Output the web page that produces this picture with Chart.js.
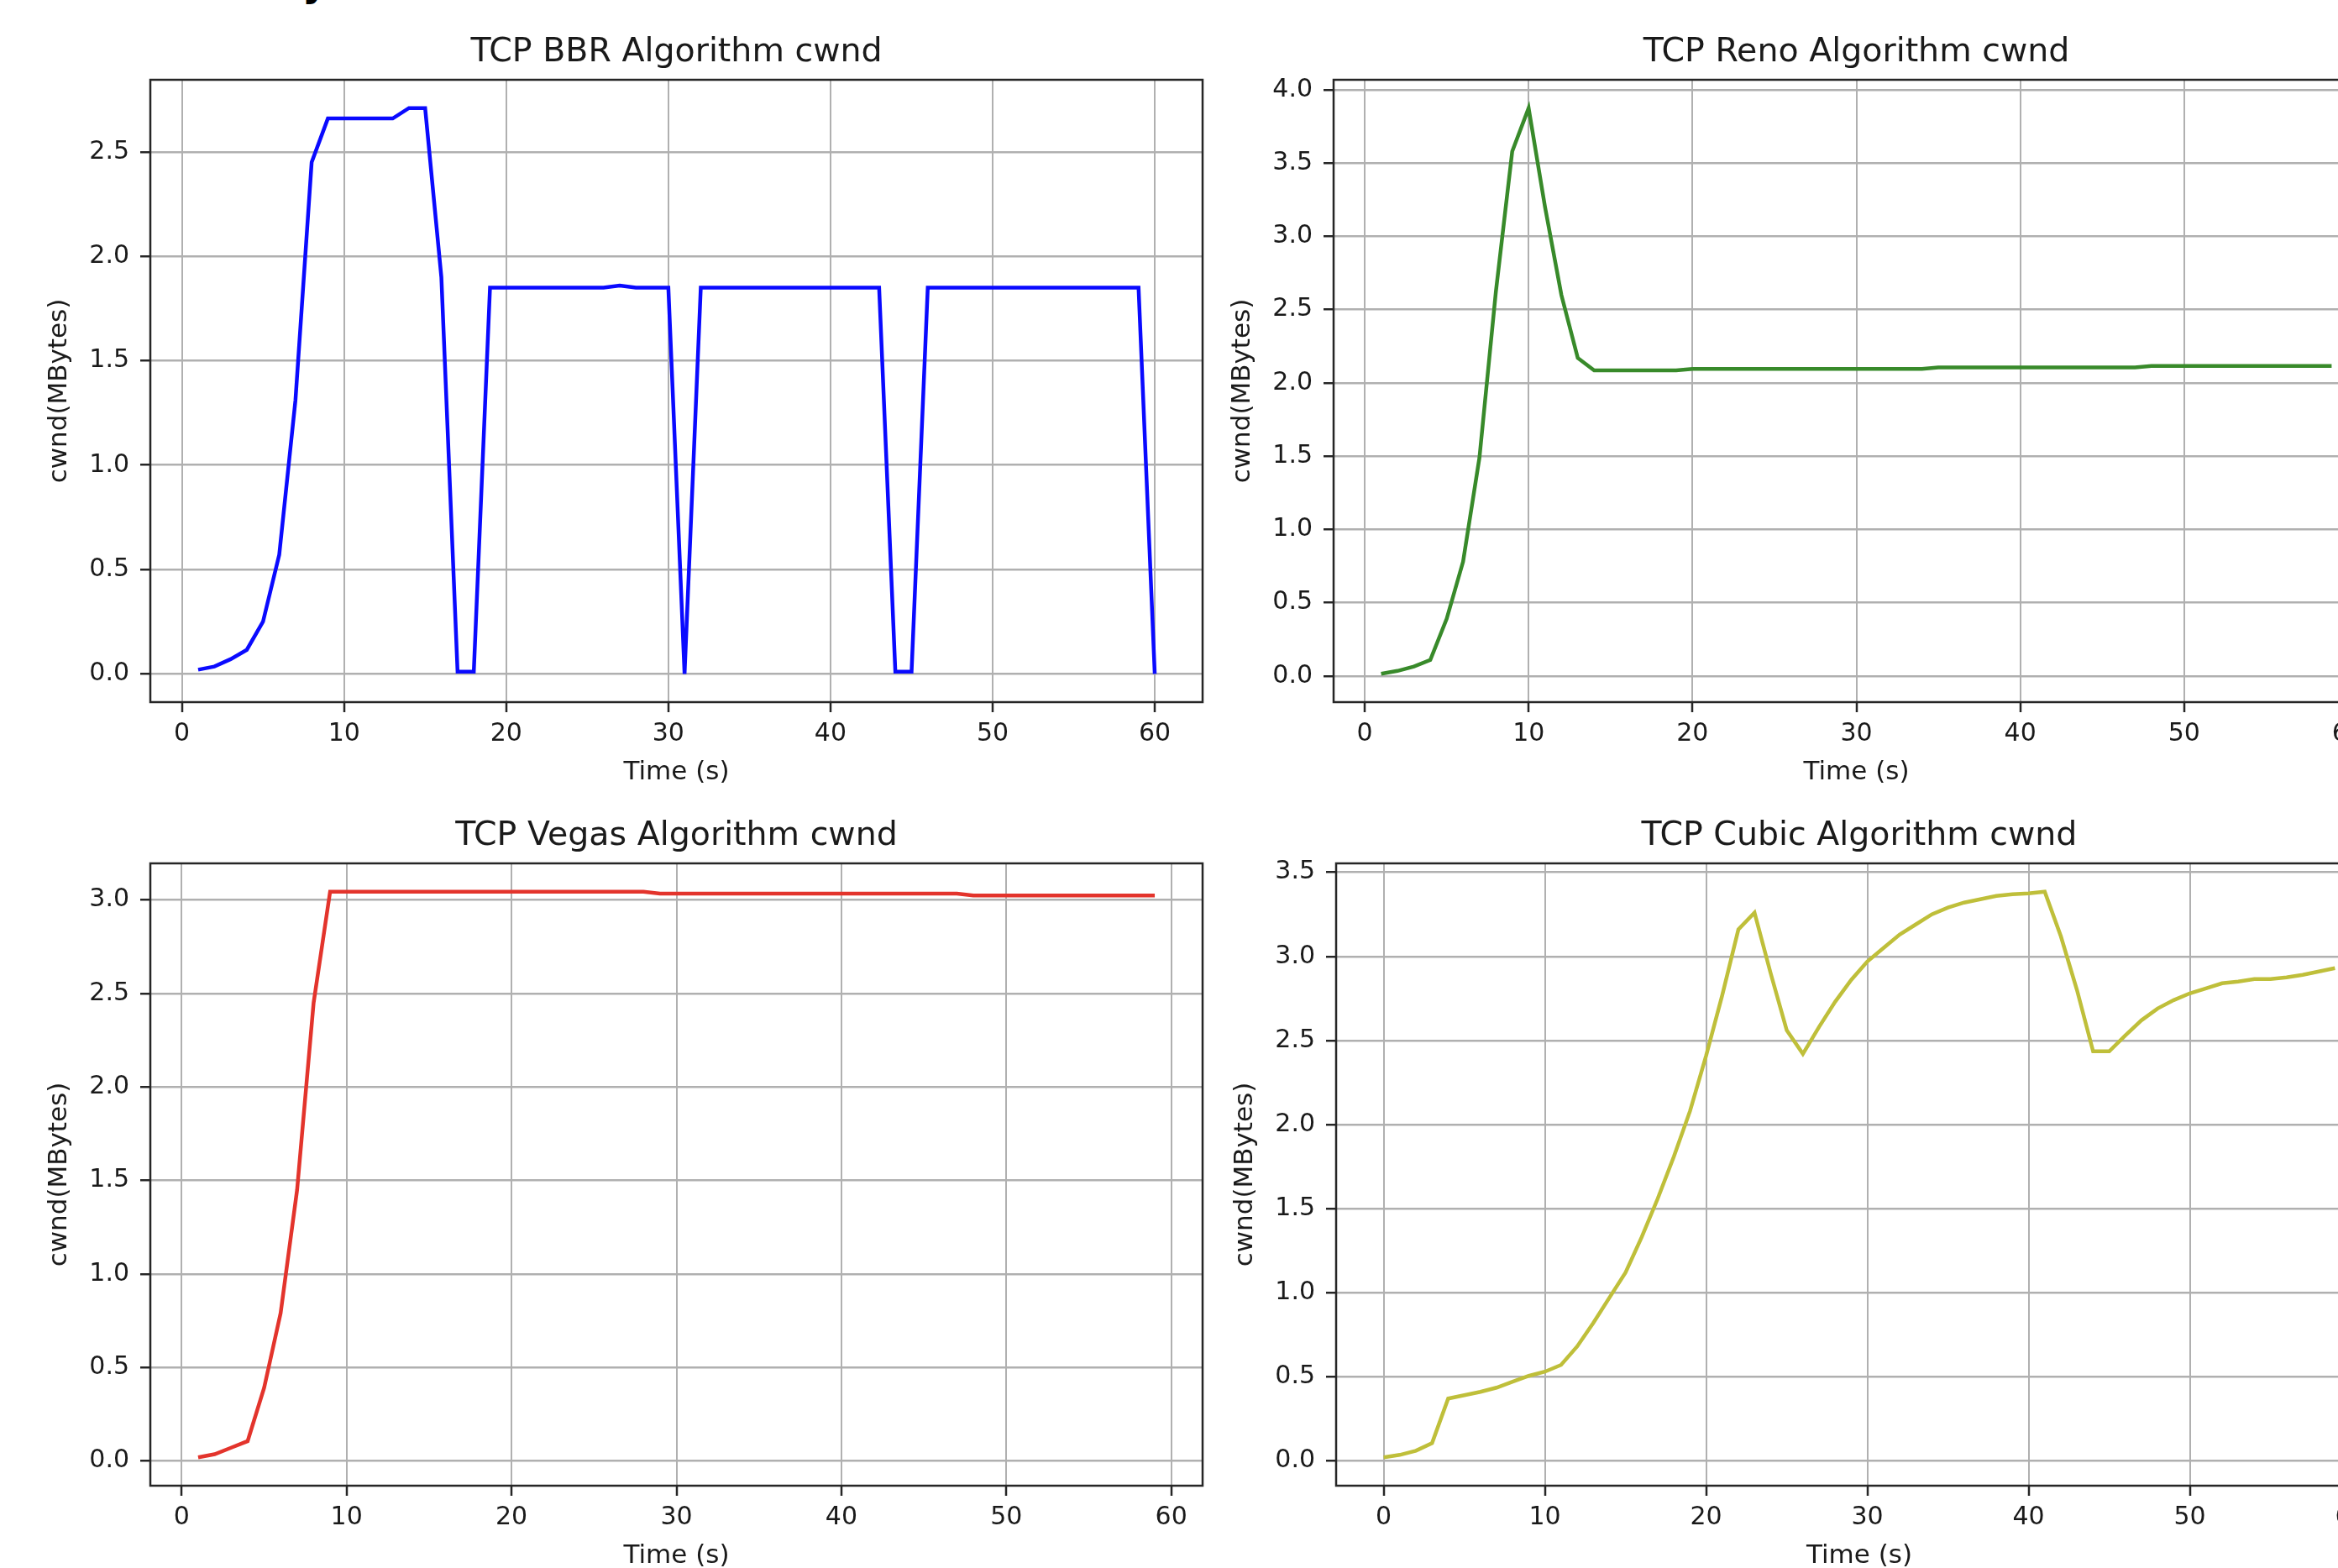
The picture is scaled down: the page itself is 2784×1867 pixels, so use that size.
<!DOCTYPE html>
<html>
<head>
<meta charset="utf-8">
<title>TCP cwnd</title>
<script src="https://cdn.jsdelivr.net/npm/chart.js@4.4.0/dist/chart.umd.min.js"></script>
<style>
  html, body { margin: 0; padding: 0; background: #fff; overflow: hidden; width: 2784px; height: 1867px; }
  canvas { position: absolute; }
  #frag { position: absolute; left: 360px; top: -48px; font: bold 46px "DejaVu Sans"; color: #000; }
</style>
</head>
<body>
<div id="frag">y</div>
<canvas id="bbrChart" width="1442" height="956" style="left:0px;top:0px"></canvas>
<canvas id="renoChart" width="1434" height="956" style="left:1409px;top:0px"></canvas>
<canvas id="vegasChart" width="1442" height="956" style="left:0px;top:933px"></canvas>
<canvas id="cubicChart" width="1435" height="956" style="left:1412px;top:933px"></canvas>
<script>
// time stamps (s)
const bbrTime = [1,2,3,4,5,6,7,8,9,10,11,12,13,14,15,16,17,18,19,20,21,22,23,24,25,26,27,28,29,30,
  31,32,33,34,35,36,37,38,39,40,41,42,43,44,45,46,47,48,49,50,51,52,53,54,55,56,57,58,59,60];
const renoTime = [1,2,3,4,5,6,7,8,9,10,11,12,13,14,15,16,17,18,19,20,21,22,23,24,25,26,27,28,29,30,
  31,32,33,34,35,36,37,38,39,40,41,42,43,44,45,46,47,48,49,50,51,52,53,54,55,56,57,58,59];
const vegasTime = [1,2,3,4,5,6,7,8,9,10,11,12,13,14,15,16,17,18,19,20,21,22,23,24,25,26,27,28,29,30,
  31,32,33,34,35,36,37,38,39,40,41,42,43,44,45,46,47,48,49,50,51,52,53,54,55,56,57,58,59];
const cubicTime = [0,1,2,3,4,5,6,7,8,9,10,11,12,13,14,15,16,17,18,19,20,21,22,23,24,25,26,27,28,29,
  30,31,32,33,34,35,36,37,38,39,40,41,42,43,44,45,46,47,48,49,50,51,52,53,54,55,56,57,58,59];

// cwnd (MBytes)
const bbrCwnd = [0.02,0.035,0.07,0.115,0.25,0.57,1.31,2.45,2.66,2.66,2.66,2.66,2.66,2.71,2.71,1.90,0.01,0.01,1.85,
  1.85,1.85,1.85,1.85,1.85,1.85,1.85,1.86,1.85,1.85,1.85,0.0,
  1.85,1.85,1.85,1.85,1.85,1.85,1.85,1.85,1.85,1.85,1.85,1.85,0.01,0.01,
  1.85,1.85,1.85,1.85,1.85,1.85,1.85,1.85,1.85,1.85,1.85,1.85,1.85,1.85,0.0];
const renoCwnd = [0.015,0.035,0.065,0.11,0.39,0.78,1.49,2.62,3.58,3.875,3.2,2.6,2.17,2.085,
  2.085,2.085,2.085,2.085,2.085,
  2.095,2.095,2.095,2.095,2.095,2.095,2.095,2.095,2.095,2.095,2.095,2.095,2.095,2.095,2.095,
  2.105,2.105,2.105,2.105,2.105,2.105,2.105,2.105,2.105,2.105,2.105,2.105,2.105,
  2.115,2.115,2.115,2.115,2.115,2.115,2.115,2.115,2.115,2.115,2.115,2.115];
const vegasCwnd = [0.018,0.035,0.07,0.105,0.39,0.79,1.45,2.45,3.045,
  3.045,3.045,3.045,3.045,3.045,3.045,3.045,3.045,3.045,3.045,3.045,3.045,3.045,3.045,3.045,3.045,3.045,3.045,3.045,
  3.035,3.035,3.035,3.035,3.035,3.035,3.035,3.035,3.035,3.035,3.035,3.035,3.035,3.035,3.035,3.035,3.035,3.035,3.035,
  3.025,3.025,3.025,3.025,3.025,3.025,3.025,3.025,3.025,3.025,3.025,3.025];
const cubicCwnd = [0.02,0.035,0.06,0.105,0.37,0.39,0.41,0.435,0.47,0.505,0.53,0.57,0.68,0.82,0.97,1.12,1.33,1.56,1.81,2.08,
  2.41,2.77,3.16,3.26,2.9,2.56,2.42,2.58,2.73,2.86,2.97,3.05,3.13,3.19,3.25,3.29,3.32,3.34,3.36,3.37,
  3.375,3.385,3.12,2.8,2.435,2.435,2.53,2.62,2.69,2.74,2.78,2.81,2.84,2.85,2.865,2.865,2.875,2.89,2.91,2.93];

// tick labels
const timeTicks = [0,10,20,30,40,50,60];
const bbrTicks = [0.0,0.5,1.0,1.5,2.0,2.5];
const renoTicks = [0.0,0.5,1.0,1.5,2.0,2.5,3.0,3.5,4.0];
const vegasTicks = [0.0,0.5,1.0,1.5,2.0,2.5,3.0];
const cubicTicks = [0.0,0.5,1.0,1.5,2.0,2.5,3.0,3.5];

Chart.defaults.font.family = '"DejaVu Sans", sans-serif';
Chart.defaults.color = '#1a1a1a';

// matplotlib style box around the plot area
const frame = {
  id: 'frame',
  afterDatasetsDraw(chart) {
    const { ctx, chartArea: a } = chart;
    ctx.save();
    ctx.strokeStyle = '#262626';
    ctx.lineWidth = 2.5;
    ctx.strokeRect(a.left, a.top, a.right - a.left, a.bottom - a.top);
    ctx.restore();
  }
};

function drawPanel(id, title, times, values, color, yTicks) {
  const lo = Math.min(...values), hi = Math.max(...values);
  const tLo = Math.min(...times), tHi = Math.max(...times);
  const yPad = (hi - lo) * 0.05, xPad = (tHi - tLo) * 0.05;   // matplotlib default margins

  const grid = {
    color: '#b0b0b0',
    lineWidth: 2,
    tickLength: 12,
    tickColor: '#262626',
    tickWidth: 2.5
  };

  new Chart(document.getElementById(id), {
    type: 'line',
    data: {
      datasets: [{
        data: times.map((t, i) => ({ x: t, y: values[i] })),
        borderColor: color,
        borderWidth: 4.5,
        pointRadius: 0,
        tension: 0,
        fill: false
      }]
    },
    options: {
      responsive: false,
      animation: false,
      layout: { padding: { right: 10 } },
      plugins: {
        legend: { display: false },
        tooltip: { enabled: false },
        title: {
          display: true,
          fullSize: false,          // centre over the plot area, like matplotlib
          text: title,
          font: { size: 39.5, weight: 'normal' },
          padding: { top: 39, bottom: 8.6 }
        }
      },
      scales: {
        x: {
          type: 'linear',
          min: tLo - xPad,
          max: tHi + xPad,
          afterBuildTicks: s => { s.ticks = timeTicks.map(v => ({ value: v })); },
          afterFit: s => { s.height = 120; },
          ticks: { font: { size: 30 }, padding: 8, callback: v => String(v) },
          grid: grid,
          border: { display: false },
          title: { display: true, text: 'Time (s)', font: { size: 31 }, padding: { top: 0, bottom: 17 } }
        },
        y: {
          min: lo - yPad,
          max: hi + yPad,
          afterBuildTicks: s => { s.ticks = yTicks.map(v => ({ value: v })); },
          afterFit: s => { s.width = 179; },
          ticks: { font: { size: 30 }, padding: 13, callback: v => v.toFixed(1) },
          grid: Object.assign({}, grid, { lineWidth: 2.5 }),
          border: { display: false },
          title: { display: true, text: 'cwnd(MBytes)', font: { size: 31 }, padding: { top: 52, bottom: 0 } }
        }
      }
    },
    plugins: [frame]
  });
}

drawPanel('bbrChart', 'TCP BBR Algorithm cwnd', bbrTime, bbrCwnd, '#0a0aff', bbrTicks);
drawPanel('renoChart', 'TCP Reno Algorithm cwnd', renoTime, renoCwnd, '#388a2a', renoTicks);
drawPanel('vegasChart', 'TCP Vegas Algorithm cwnd', vegasTime, vegasCwnd, '#e3342c', vegasTicks);
drawPanel('cubicChart', 'TCP Cubic Algorithm cwnd', cubicTime, cubicCwnd, '#bfbf3a', cubicTicks);
</script>
</body>
</html>
